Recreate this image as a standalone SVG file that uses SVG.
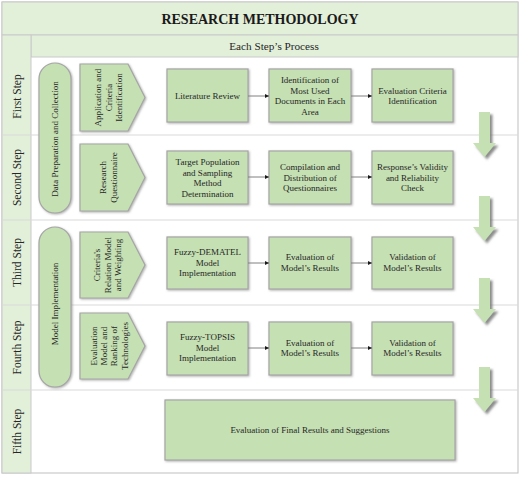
<svg xmlns="http://www.w3.org/2000/svg" width="520" height="477" viewBox="0 0 520 477">
<defs>
<style>
.band{fill:#e2efd9;stroke:#c9c9c9;stroke-width:1}
.sep{stroke:#d9d9d9;stroke-width:1;fill:none}
.box{fill:#c5e0b3;stroke:#a5a5a5;stroke-width:1.2;filter:url(#sh)}
.arr{fill:#c5e0b3;filter:url(#sh2)}
.t{font-family:"Liberation Serif","Times New Roman",serif;fill:#262626;font-size:9px;text-anchor:middle}
.step{font-family:"Liberation Serif","Times New Roman",serif;fill:#262626;font-size:11.5px;text-anchor:middle}
.title{font-family:"Liberation Serif","Times New Roman",serif;fill:#1a1a1a;font-size:14px;font-weight:bold;text-anchor:middle}
.hdr{font-family:"Liberation Serif","Times New Roman",serif;fill:#262626;font-size:11.2px;text-anchor:middle}
.con{stroke:#808080;stroke-width:1;fill:none;marker-end:url(#ah)}
</style>
<filter id="sh" x="-10%" y="-10%" width="130%" height="130%">
<feDropShadow dx="1" dy="1" stdDeviation="0.8" flood-color="#7f7f7f" flood-opacity="0.6"/>
</filter>
<filter id="sh2" x="-30%" y="-20%" width="170%" height="150%">
<feDropShadow dx="2.5" dy="2.5" stdDeviation="1.2" flood-color="#6f6f6f" flood-opacity="0.8"/>
</filter>
<marker id="ah" viewBox="0 0 6 6" refX="6" refY="3" markerWidth="4" markerHeight="4" orient="auto">
<path d="M0,0 L6,3 L0,6 Z" fill="#1a1a1a"/>
</marker>
<path id="down" d="M479,0 H490 V31 H496 L484.5,45 L473,31 H479 Z"/>
</defs>

<g id="frame">
<rect x="2" y="2" width="516" height="471" fill="#ffffff" stroke="#bfbfbf" stroke-width="1"/>
<rect class="band" x="2" y="2" width="516" height="33"/>
<rect class="band" x="31" y="35" width="487" height="22"/>
<rect class="band" x="2" y="35" width="29" height="438"/>
<line class="sep" x1="2" y1="135" x2="518" y2="135"/>
<line class="sep" x1="2" y1="220" x2="518" y2="220"/>
<line class="sep" x1="2" y1="305" x2="518" y2="305"/>
<line class="sep" x1="2" y1="390" x2="518" y2="390"/>
<text class="title" x="260" y="24">RESEARCH METHODOLOGY</text>
<text class="hdr" x="274" y="50">Each Step’s Process</text>
</g>

<g id="steps">
<text class="step" transform="translate(21,96.5) rotate(-90)">First Step</text>
<text class="step" transform="translate(21,177.5) rotate(-90)">Second Step</text>
<text class="step" transform="translate(21,262.5) rotate(-90)">Third Step</text>
<text class="step" transform="translate(21,347.5) rotate(-90)">Fourth Step</text>
<text class="step" transform="translate(21,431.5) rotate(-90)">Fifth Step</text>
</g>

<g id="phase-data">
<rect class="box" x="39" y="63" width="32" height="150" rx="16"/>
<text class="t" transform="translate(58,139) rotate(-90)">Data Preparation and Collection</text>
</g>
<g id="phase-model">
<rect class="box" x="39" y="227" width="32" height="160" rx="16"/>
<text class="t" transform="translate(58,304) rotate(-90)">Model Implementation</text>
</g>

<g id="p1">
<path class="box" d="M80,64 H128 L145,97.5 L128,131 H80 Z"/>
<text class="t" transform="translate(101,97.5) rotate(-90)"><tspan x="0" y="0">Application and</tspan><tspan x="0" y="10.5">Criteria</tspan><tspan x="0" y="21">Identification</tspan></text>
</g>
<g id="p2">
<path class="box" d="M80,144 H128 L145,177.5 L128,211 H80 Z"/>
<text class="t" transform="translate(106,177.5) rotate(-90)"><tspan x="0" y="0">Research</tspan><tspan x="0" y="10.5">Questionnaire</tspan></text>
</g>
<g id="p3">
<path class="box" d="M80,232 H128 L145,265 L128,298 H80 Z"/>
<text class="t" transform="translate(100,265) rotate(-90)"><tspan x="0" y="0">Criteria's</tspan><tspan x="0" y="10.5">Relation Model</tspan><tspan x="0" y="21">and Weighting</tspan></text>
</g>
<g id="p4">
<path class="box" d="M80,313 H128 L145,346 L128,379 H80 Z"/>
<text class="t" transform="translate(97,346) rotate(-90)"><tspan x="0" y="0">Evaluation</tspan><tspan x="0" y="10.2">Model and</tspan><tspan x="0" y="20.4">Ranking of</tspan><tspan x="0" y="30.6">Technologies</tspan></text>
</g>

<g id="r1c1"><rect class="box" x="167" y="69" width="81" height="53"/>
<text class="t" x="207.5" y="98.5">Literature Review</text></g>
<g id="r1c2"><rect class="box" x="269" y="69" width="82" height="53"/>
<text class="t"><tspan x="310" y="83">Identification of</tspan><tspan x="310" y="93.7">Most Used</tspan><tspan x="310" y="104.4">Documents in Each</tspan><tspan x="310" y="115.1">Area</tspan></text></g>
<g id="r1c3"><rect class="box" x="372" y="69" width="81" height="53"/>
<text class="t"><tspan x="412.5" y="93.5">Evaluation Criteria</tspan><tspan x="412.5" y="104.2">Identification</tspan></text></g>

<g id="r2c1"><rect class="box" x="167" y="151" width="81" height="53"/>
<text class="t"><tspan x="207.5" y="165">Target Population</tspan><tspan x="207.5" y="175.7">and Sampling</tspan><tspan x="207.5" y="186.4">Method</tspan><tspan x="207.5" y="197.1">Determination</tspan></text></g>
<g id="r2c2"><rect class="box" x="269" y="151" width="82" height="53"/>
<text class="t"><tspan x="310" y="170">Compilation and</tspan><tspan x="310" y="180.7">Distribution of</tspan><tspan x="310" y="191.4">Questionnaires</tspan></text></g>
<g id="r2c3"><rect class="box" x="372" y="151" width="81" height="53"/>
<text class="t"><tspan x="412.5" y="170">Response’s Validity</tspan><tspan x="412.5" y="180.7">and Reliability</tspan><tspan x="412.5" y="191.4">Check</tspan></text></g>

<g id="r3c1"><rect class="box" x="167" y="237" width="81" height="52"/>
<text class="t"><tspan x="207.5" y="255">Fuzzy-DEMATEL</tspan><tspan x="207.5" y="265.7">Model</tspan><tspan x="207.5" y="276.4">Implementation</tspan></text></g>
<g id="r3c2"><rect class="box" x="269" y="237" width="82" height="52"/>
<text class="t"><tspan x="310" y="260">Evaluation of</tspan><tspan x="310" y="270.7">Model’s Results</tspan></text></g>
<g id="r3c3"><rect class="box" x="372" y="237" width="81" height="52"/>
<text class="t"><tspan x="412.5" y="260">Validation of</tspan><tspan x="412.5" y="270.7">Model’s Results</tspan></text></g>

<g id="r4c1"><rect class="box" x="167" y="322" width="81" height="53"/>
<text class="t"><tspan x="207.5" y="340">Fuzzy-TOPSIS</tspan><tspan x="207.5" y="350.7">Model</tspan><tspan x="207.5" y="361.4">Implementation</tspan></text></g>
<g id="r4c2"><rect class="box" x="269" y="322" width="82" height="53"/>
<text class="t"><tspan x="310" y="345.5">Evaluation of</tspan><tspan x="310" y="356.2">Model’s Results</tspan></text></g>
<g id="r4c3"><rect class="box" x="372" y="322" width="81" height="53"/>
<text class="t"><tspan x="412.5" y="345.5">Validation of</tspan><tspan x="412.5" y="356.2">Model’s Results</tspan></text></g>

<g id="r5"><rect class="box" x="165" y="400" width="290" height="60"/>
<text class="t" x="310" y="433">Evaluation of Final Results and Suggestions</text></g>

<g id="connectors">
<line class="con" x1="248" y1="96" x2="269" y2="96"/>
<line class="con" x1="351" y1="96" x2="372" y2="96"/>
<line class="con" x1="248" y1="177" x2="269" y2="177"/>
<line class="con" x1="351" y1="177" x2="372" y2="177"/>
<line class="con" x1="248" y1="263" x2="269" y2="263"/>
<line class="con" x1="351" y1="263" x2="372" y2="263"/>
<line class="con" x1="248" y1="348" x2="269" y2="348"/>
<line class="con" x1="351" y1="348" x2="372" y2="348"/>
<use class="arr" href="#down" transform="translate(0,112)"/>
<use class="arr" href="#down" transform="translate(0,196)"/>
<use class="arr" href="#down" transform="translate(0,278)"/>
<use class="arr" href="#down" transform="translate(0,367)"/>
</g>
</svg>
